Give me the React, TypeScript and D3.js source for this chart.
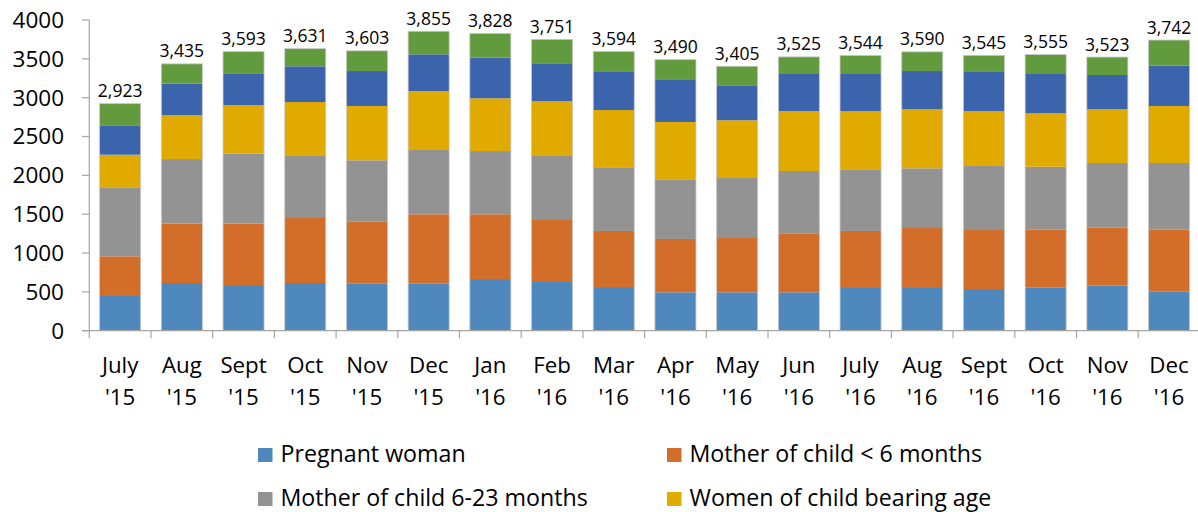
import React from "react";
import * as d3 from "d3";

const categories = ["July '15", "Aug '15", "Sept '15", "Oct '15", "Nov '15", "Dec '15", "Jan '16", "Feb '16", "Mar '16", "Apr '16", "May '16", "Jun '16", "July '16", "Aug '16", "Sept '16", "Oct '16", "Nov '16", "Dec '16"];

const pregnantWoman = [447, 614, 588, 614, 605, 605, 666, 627, 563, 494, 494, 494, 550, 550, 537, 559, 579, 507];
const motherUnder6 = [511, 764, 790, 837, 803, 894, 833, 798, 721, 687, 699, 760, 734, 772, 759, 746, 752, 793];
const mother6to23 = [888, 832, 901, 798, 786, 827, 814, 824, 820, 768, 773, 802, 794, 769, 824, 806, 828, 859];
const womenChildBearing = [420, 567, 623, 695, 699, 760, 679, 704, 737, 738, 743, 772, 750, 759, 708, 688, 691, 734];
const series5 = [378, 403, 412, 460, 450, 472, 523, 490, 490, 541, 450, 477, 477, 493, 503, 506, 442, 519];
const series6 = [279, 255, 279, 227, 260, 297, 313, 308, 263, 262, 246, 220, 239, 247, 214, 250, 231, 330];

const totals = [2923, 3435, 3593, 3631, 3603, 3855, 3828, 3751, 3594, 3490, 3405, 3525, 3544, 3590, 3545, 3555, 3523, 3742];

const yTicks = [0, 500, 1000, 1500, 2000, 2500, 3000, 3500, 4000];

const seriesKeys = ["Pregnant woman", "Mother of child < 6 months", "Mother of child 6-23 months", "Women of child bearing age", "Series 5", "Series 6"];
const seriesValues = [pregnantWoman, motherUnder6, mother6to23, womenChildBearing, series5, series6];
const colors = ["#4f88bd", "#d36d2a", "#939393", "#e1aa00", "#3b64ad", "#629a3e"];

const legendItems = [
  { key: "Pregnant woman", color: colors[0], col: 0, row: 0 },
  { key: "Mother of child < 6 months", color: colors[1], col: 1, row: 0 },
  { key: "Mother of child 6-23 months", color: colors[2], col: 0, row: 1 },
  { key: "Women of child bearing age", color: colors[3], col: 1, row: 1 },
];

const FONT = "'Open Sans', sans-serif";

export default function App() {
  const W = 1198;
  const H = 512;
  const x = d3.scaleBand<string>().domain(categories).range([89.3, 1199.9]).paddingInner(0.335).paddingOuter(0.1675);
  const y = d3.scaleLinear().domain([0, 4000]).range([330.7, 20]);

  const table = categories.map((c, i) => {
    const row: any = { cat: c };
    seriesKeys.forEach((k, j) => (row[k] = seriesValues[j][i]));
    return row;
  });
  const stacked = d3.stack<any>().keys(seriesKeys)(table);
  const fmt = d3.format(",");
  const axisColor = "#a6a6a6";
  const step = x.step();
  const x0 = x.range()[0];

  return (
    <svg width={W} height={H} style={{ position: "fixed", left: 0, top: 0, background: "#fff" }} fontFamily={FONT}>
      {stacked.map((s, si) => (
        <g key={s.key} fill={colors[si]}>
          {s.map((d, i) => (
            <rect key={i} x={x(categories[i])} width={x.bandwidth()} y={y(d[1])} height={y(d[0]) - y(d[1])} />
          ))}
        </g>
      ))}
      {categories.map((c, i) => (
        <rect key={"o" + i} x={x(c)} width={x.bandwidth()} y={y(totals[i])} height={y(0) - y(totals[i])} fill="none" stroke="#c8c8c8" strokeWidth={0.8} />
      ))}
      {/* y axis */}
      <line x1={89.3} x2={89.3} y1={y(4000)} y2={y(0)} stroke={axisColor} strokeWidth={1.2} />
      {yTicks.map((t) => (
        <g key={t}>
          <line x1={82} x2={89.3} y1={y(t)} y2={y(t)} stroke={axisColor} strokeWidth={1.2} />
          <text x={64} y={y(t)} dy="0.35em" textAnchor="end" fontSize={22.5} fill="#000">{t}</text>
        </g>
      ))}
      {/* x axis */}
      <line x1={82} x2={W} y1={y(0)} y2={y(0)} stroke={axisColor} strokeWidth={1.2} />
      {d3.range(categories.length + 1).map((i) => (
        <line key={"t" + i} x1={x0 + i * step} x2={x0 + i * step} y1={y(0)} y2={y(0) + 7.5} stroke={axisColor} strokeWidth={1.2} />
      ))}
      {categories.map((c) => {
        const [a, b] = c.split(" ");
        const cx = (x(c) as number) + x.bandwidth() / 2;
        return (
          <text key={"l" + c} x={cx} textAnchor="middle" fontSize={22.3} fill="#000">
            <tspan x={cx} y={373}>{a}</tspan>
            <tspan x={cx} y={405}>{b}</tspan>
          </text>
        );
      })}
      {/* totals */}
      {categories.map((c, i) => (
        <text key={"v" + c} x={(x(c) as number) + x.bandwidth() / 2} y={y(totals[i]) - 6.5} textAnchor="middle" fontSize={17.5} fill="#000">
          {fmt(totals[i])}
        </text>
      ))}
      {/* legend */}
      {legendItems.map((l) => {
        const lx = l.col === 0 ? 258 : 667;
        const ly = l.row === 0 ? 462 : 506;
        return (
          <g key={l.key}>
            <rect x={lx} y={ly - 14} width={14.5} height={14} fill={l.color} />
            <text x={lx + 22.5} y={ly} fontSize={23.2} fill="#000">{l.key}</text>
          </g>
        );
      })}
    </svg>
  );
}
